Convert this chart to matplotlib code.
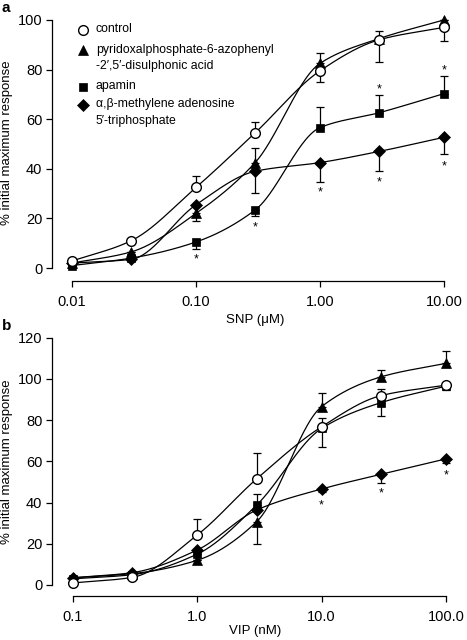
import numpy as np
import matplotlib
matplotlib.use("Agg")
import matplotlib.pyplot as plt

plt.rcParams['font.family'] = ['Liberation Sans', 'DejaVu Sans']

# ---------------- data ----------------
snp = [0.01, 0.03, 0.1, 0.3, 1.0, 3.0, 10.0]
snp_ticks = [0.01, 0.1, 1.0, 10.0]
snp_ticklabels = ["0.01", "0.10", "1.00", "10.00"]

a_control = [2.8, 11, 32.5, 54.5, 79.5, 92, 97]
a_control_lo = [0, 0, 0, 0, 4.5, 9, 5.5]
a_control_hi = [0, 0, 4.5, 4.5, 0, 0, 0]

a_ppads = [2, 6.5, 22, 42.5, 82.5, 92.5, 100]
a_ppads_lo = [0, 0, 3, 0, 0, 0, 0]
a_ppads_hi = [0, 0, 0, 6, 4, 3, 0]

a_apamin = [1, 4, 10.5, 23.4, 56.6, 62.6, 70.3]
a_apamin_lo = [0, 0, 3, 2.5, 0, 0, 0]
a_apamin_hi = [0, 0, 0, 0, 8.5, 7, 7]

a_abmeatp = [2, 3.5, 25.5, 39, 42.5, 47, 52.7]
a_abmeatp_lo = [0, 0, 0, 8.6, 8, 8, 6.7]
a_abmeatp_hi = [0, 0, 0, 0, 0, 0, 0]

# asterisks (x, y) panel a
a_star_x = [0.1, 0.3, 1.0, 3.0, 3.0, 10.0, 10.0]
a_star_y = [3.5, 16.5, 30.5, 72, 34.5, 79.5, 41]

vip = [0.1, 0.3, 1.0, 3.0, 10.0, 30.0, 100.0]
vip_ticks = [0.1, 1.0, 10.0, 100.0]
vip_ticklabels = ["0.1", "1.0", "10.0", "100.0"]

b_control = [1, 3.7, 24.3, 51.5, 76.8, 91.9, 97]
b_control_lo = [0, 0, 0, 0, 10, 0, 2.5]
b_control_hi = [0, 0, 7.6, 12.5, 4, 3, 0]

b_ppads = [3.5, 5.5, 12, 30.7, 86.6, 101, 107.6]
b_ppads_lo = [0, 0, 0, 11, 0, 0, 0]
b_ppads_hi = [0, 0, 0, 0, 6.7, 3.3, 6]

b_apamin = [3, 5, 15, 38.8, 76, 88.5, 96.5]
b_apamin_lo = [0, 0, 0, 0, 0, 6.5, 0]
b_apamin_hi = [0, 0, 0, 5.5, 0, 0, 0]

b_abmeatp = [3.5, 6, 17, 36.4, 46.6, 53.7, 61.2]
b_abmeatp_lo = [0, 0, 0, 0, 1.5, 4, 2]
b_abmeatp_hi = [0, 0, 0, 0, 0, 0, 0]

b_star_x = [10.0, 30.0, 100.0]
b_star_y = [38.5, 44.5, 53]

legend_labels = ["control",
                 "pyridoxalphosphate-6-azophenyl\n-2\u2032,5\u2032-disulphonic acid",
                 "apamin",
                 "\u03b1,\u03b2-methylene adenosine\n5\u2032-triphosphate"]


# ------------- smooth curve helper (monotone cubic in log-x) -------------
def pchip(x, y, xn):
    x = np.asarray(x, float); y = np.asarray(y, float)
    h = np.diff(x); d = np.diff(y) / h
    n = len(x)
    m = np.zeros(n)
    for k in range(1, n - 1):
        if d[k - 1] * d[k] <= 0:
            m[k] = 0
        else:
            w1 = 2 * h[k] + h[k - 1]; w2 = h[k] + 2 * h[k - 1]
            m[k] = (w1 + w2) / (w1 / d[k - 1] + w2 / d[k])
    m[0] = d[0]; m[-1] = d[-1]
    out = np.empty_like(xn)
    for i, xv in enumerate(xn):
        k = min(max(np.searchsorted(x, xv) - 1, 0), n - 2)
        t = (xv - x[k]) / h[k]
        h00 = 2 * t**3 - 3 * t**2 + 1; h10 = t**3 - 2 * t**2 + t
        h01 = -2 * t**3 + 3 * t**2; h11 = t**3 - t**2
        out[i] = h00 * y[k] + h10 * h[k] * m[k] + h01 * y[k + 1] + h11 * h[k] * m[k + 1]
    return out


W, H = 467, 640
fig = plt.figure(figsize=(W / 100, H / 100), dpi=100)


def make_axes(top_px, bot_px):
    return fig.add_axes([52 / W, 1 - bot_px / H, (458 - 52) / W, (bot_px - top_px) / H])


styles = [
    dict(marker='o', mfc='white', mec='black', ms=7.0, mew=1.0),
    dict(marker='^', mfc='black', mec='black', ms=7.2, mew=0.5),
    dict(marker='s', mfc='black', mec='black', ms=5.9, mew=0.5),
    dict(marker='D', mfc='black', mec='black', ms=5.9, mew=0.5),
]


def draw_panel(ax, x, series, xlim, ylim, ybound, yticks, xticks, xticklabels,
               xlabel, offset_pt, stars, xlabelpad):
    lx = np.log10(x)
    xn = np.linspace(lx[0], lx[-1], 300)
    order = [3, 2, 1, 0]
    for i in order:
        y, lo, hi = series[i]
        ax.plot(10 ** xn, pchip(lx, y, xn), color='black', lw=0.9, zorder=2)
    for i in order:
        y, lo, hi = series[i]
        ax.errorbar(x, y, yerr=[lo, hi], fmt='none', ecolor='black', elinewidth=0.9,
                    capsize=2.9, capthick=0.9, zorder=3)
        ax.plot(x, y, ls='none', zorder=4 + (1 if i == 0 else 0), **styles[i])
    sx, sy = stars
    for xs, ys in zip(sx, sy):
        ax.text(xs, ys, "*", ha='center', va='center', fontsize=9, color='black')
    ax.set_xscale('log')
    ax.set_xlim(*xlim)
    ax.set_ylim(*ylim)
    for s in ['top', 'right']:
        ax.spines[s].set_visible(False)
    ax.spines['left'].set_bounds(*ybound)
    ax.spines['bottom'].set_bounds(xticks[0], xticks[-1])
    ax.spines['bottom'].set_position(('outward', offset_pt))
    ax.spines['left'].set_linewidth(0.9)
    ax.spines['bottom'].set_linewidth(0.9)
    ax.set_yticks(yticks)
    ax.set_xticks(xticks)
    ax.set_xticklabels(xticklabels)
    ax.xaxis.set_minor_locator(matplotlib.ticker.NullLocator())
    ax.tick_params(axis='both', direction='out', length=4, width=0.9, labelsize=10.5,
                   pad=3)
    ax.tick_params(axis='x', pad=6)
    ax.set_xlabel(xlabel, fontsize=9.5, labelpad=xlabelpad)
    ax.set_ylabel("% initial maximum response", fontsize=9.5, labelpad=3)
    ax.patch.set_visible(False)


# Panel a
ax1 = make_axes(15.0, 270.5)
draw_panel(ax1, np.array(snp),
           [(a_control, a_control_lo, a_control_hi),
            (a_ppads, a_ppads_lo, a_ppads_hi),
            (a_apamin, a_apamin_lo, a_apamin_hi),
            (a_abmeatp, a_abmeatp_lo, a_abmeatp_hi)],
           (10 ** (-2 - 20 / 124), 10 ** (1 + 14 / 124)), (-1, 102), (0, 100),
           [0, 20, 40, 60, 80, 100], snp_ticks, snp_ticklabels,
           "SNP (\u03bcM)", 7.6, (a_star_x, a_star_y), 3.5)

# Panel b
ax2 = make_axes(333.6, 589.1)
draw_panel(ax2, np.array(vip),
           [(b_control, b_control_lo, b_control_hi),
            (b_ppads, b_ppads_lo, b_ppads_hi),
            (b_apamin, b_apamin_lo, b_apamin_hi),
            (b_abmeatp, b_abmeatp_lo, b_abmeatp_hi)],
           (10 ** (-1 - 21 / 124.33), 10 ** (2 + 12 / 124.33)), (-2, 122), (0, 120),
           [0, 20, 40, 60, 80, 100, 120], vip_ticks, vip_ticklabels,
           "VIP (nM)", 5.0, (b_star_x, b_star_y), 1.0)

# Legend (panel a), positions in axes fraction
def px_to_ax(xp, yp, top_px, bot_px):
    return ((xp - 52) / (458 - 52), (bot_px - yp) / (bot_px - top_px))

leg_rows = [(30, 0), (50, 1), (87, 2), (105, 3)]
for (yp, i) in leg_rows:
    mx, my = px_to_ax(83, yp, 15.0, 270.5)
    tx, ty = px_to_ax(96, yp, 15.0, 270.5)
    ax1.plot([mx], [my], transform=ax1.transAxes, ls='none', clip_on=False, **styles[i])
    ax1.text(tx, ty + 6.5 / 255.5, legend_labels[i], transform=ax1.transAxes,
             fontsize=8.8, va='top', ha='left', linespacing=1.55)

fig.text(2 / W, 1 - 8 / H, "a", fontsize=11, fontweight='bold', va='center', ha='left')
fig.text(2 / W, 1 - 326 / H, "b", fontsize=11, fontweight='bold', va='center', ha='left')

fig.savefig("out.png", dpi=100)
